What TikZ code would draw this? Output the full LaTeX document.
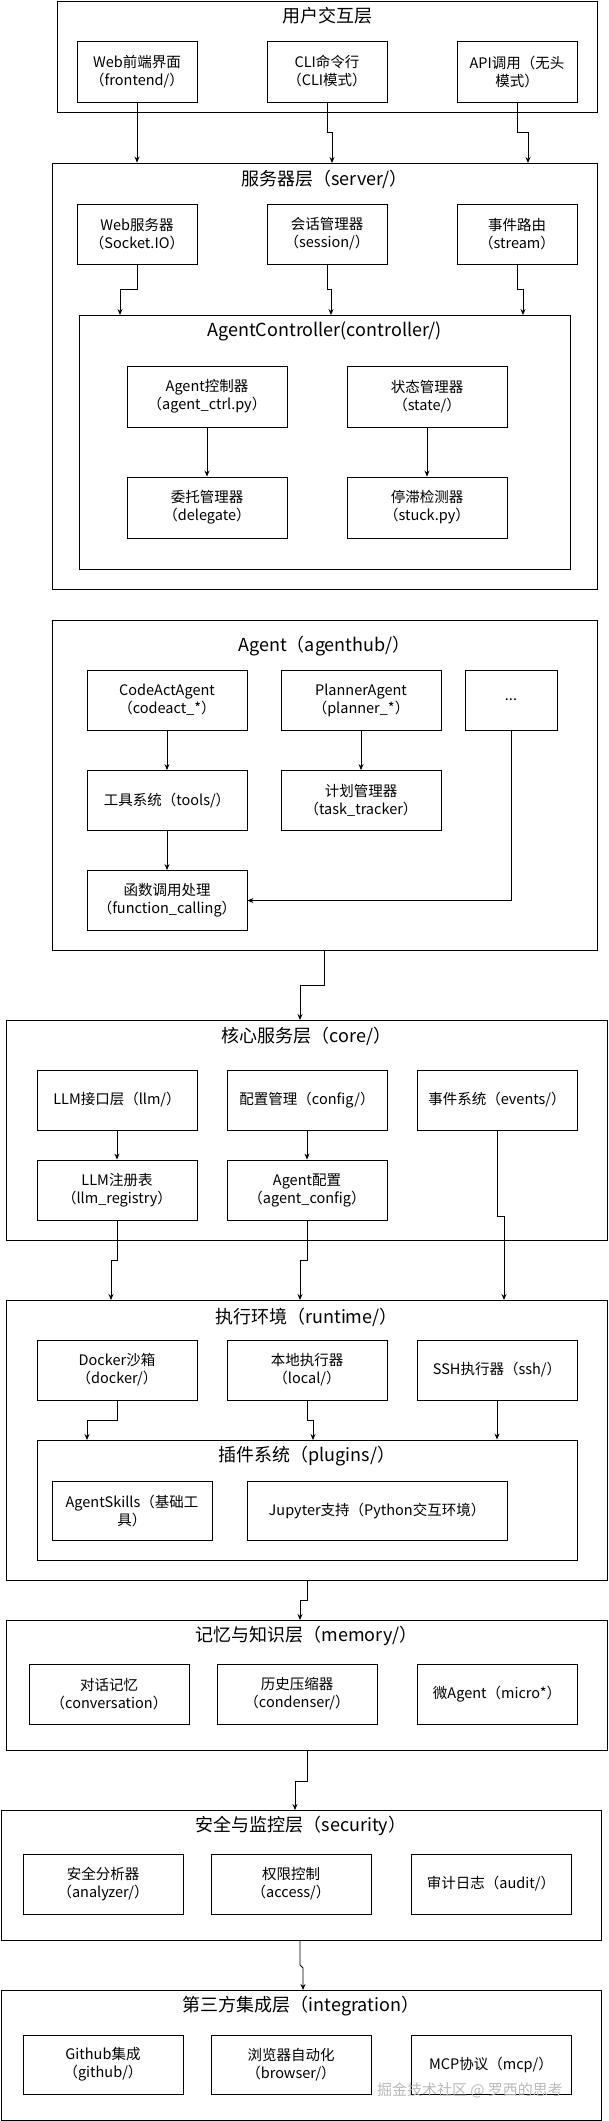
\documentclass[tikz,border=0pt]{standalone}
\usepackage{fontspec}
\setmainfont{Noto Sans CJK SC}
\usetikzlibrary{arrows.meta}
\begin{document}
\begin{tikzpicture}[x=1pt,y=-1pt,
  box/.style={draw=black,line width=0.9pt,align=center,inner sep=1pt,font=\fontsize{14.5}{18}\selectfont},
  layer/.style={draw=black,line width=0.9pt},
  ttl/.style={font=\fontsize{18}{21}\selectfont,inner sep=0pt},
  arr/.style={draw=black,line width=0.8pt,-{Stealth[length=6pt,width=5pt]}}]
\useasboundingbox (0,0) rectangle (608,2121);
% layer 1
\node[layer,minimum width=540pt,minimum height=111pt] (ui) at (327,56.5) {};
\node[ttl] (uit) at (327,16) {用户交互层};
\node[box,minimum width=120pt,minimum height=61pt] (u1) at (137,71.5) {Web前端界面\\（frontend/）};
\node[box,minimum width=120pt,minimum height=61pt] (u2) at (327,71.5) {CLI命令行\\（CLI模式）};
\node[box,minimum width=120pt,minimum height=61pt] (u3) at (517,71.5) {API调用（无头\\模式）};
% server
\node[layer,minimum width=545pt,minimum height=426pt] (srv) at (324.5,376) {};
\node[ttl] (srvt) at (324.5,179) {服务器层（server/）};
\node[box,minimum width=120pt,minimum height=60pt] (s1) at (137,234) {Web服务器\\（Socket.IO）};
\node[box,minimum width=120pt,minimum height=60pt] (s2) at (327,234) {会话管理器\\（session/）};
\node[box,minimum width=120pt,minimum height=60pt] (s3) at (517,234) {事件路由\\（stream）};
\node[layer,minimum width=491pt,minimum height=254pt] (ctl) at (324.5,442) {};
\node[ttl] (ctlt) at (324.5,331) {AgentController(controller/)};
\node[box,minimum width=160pt,minimum height=61pt] (a1) at (207,396.5) {Agent控制器\\（agent\_ctrl.py）};
\node[box,minimum width=160pt,minimum height=61pt] (a2) at (427,396.5) {状态管理器\\（state/）};
\node[box,minimum width=160pt,minimum height=61pt] (a3) at (207,507.5) {委托管理器\\（delegate）};
\node[box,minimum width=160pt,minimum height=61pt] (a4) at (427,507.5) {停滞检测器\\（stuck.py）};
% agent
\node[layer,minimum width=545pt,minimum height=330pt] (ag) at (324.5,785) {};
\node[ttl] (agt) at (324.5,646) {Agent（agenthub/）};
\node[box,minimum width=160pt,minimum height=60pt] (g1) at (167,700) {CodeActAgent\\（codeact\_*）};
\node[box,minimum width=160pt,minimum height=60pt] (g2) at (361,700) {PlannerAgent\\（planner\_*）};
\node[box,minimum width=92pt,minimum height=60pt] (g3) at (511,700) {...};
\node[box,minimum width=160pt,minimum height=60pt] (g4) at (167,800.5) {工具系统（tools/）};
\node[box,minimum width=160pt,minimum height=60pt] (g5) at (361,800.5) {计划管理器\\（task\_tracker）};
\node[box,minimum width=160pt,minimum height=60pt] (g6) at (167,900.5) {函数调用处理\\（function\_calling）};
% core
\node[layer,minimum width=601pt,minimum height=220pt] (core) at (306.5,1130) {};
\node[ttl] (coret) at (306.5,1036) {核心服务层（core/）};
\node[box,minimum width=160pt,minimum height=60pt] (c1) at (117,1100) {LLM接口层（llm/）};
\node[box,minimum width=160pt,minimum height=60pt] (c2) at (307,1100) {配置管理（config/）};
\node[box,minimum width=160pt,minimum height=60pt] (c3) at (497,1100) {事件系统（events/）};
\node[box,minimum width=160pt,minimum height=60pt] (c4) at (117,1190) {LLM注册表\\（llm\_registry）};
\node[box,minimum width=160pt,minimum height=60pt] (c5) at (307,1190) {Agent配置\\（agent\_config）};
% runtime
\node[layer,minimum width=601pt,minimum height=280pt] (rt) at (306.5,1440) {};
\node[ttl] (rtt) at (306.5,1317) {执行环境（runtime/）};
\node[box,minimum width=160pt,minimum height=60pt] (r1) at (117,1370) {Docker沙箱\\（docker/）};
\node[box,minimum width=160pt,minimum height=60pt] (r2) at (307,1370) {本地执行器\\（local/）};
\node[box,minimum width=160pt,minimum height=60pt] (r3) at (497,1370) {SSH执行器（ssh/）};
\node[layer,minimum width=540pt,minimum height=120pt] (pl) at (307,1500) {};
\node[ttl] (plt) at (307,1456) {插件系统（plugins/）};
\node[box,minimum width=160pt,minimum height=59pt] (p1) at (132,1510.5) {AgentSkills（基础工\\具）};
\node[box,minimum width=260pt,minimum height=59pt] (p2) at (377,1510.5) {Jupyter支持（Python交互环境）};
% memory
\node[layer,minimum width=601pt,minimum height=130pt] (mem) at (306.5,1685) {};
\node[ttl] (memt) at (306.5,1636) {记忆与知识层（memory/）};
\node[box,minimum width=160pt,minimum height=60pt] (m1) at (109,1694) {对话记忆\\（conversation）};
\node[box,minimum width=160pt,minimum height=60pt] (m2) at (297,1694) {历史压缩器\\（condenser/）};
\node[box,minimum width=160pt,minimum height=60pt] (m3) at (497,1694) {微Agent（micro*）};
% security
\node[layer,minimum width=600pt,minimum height=130pt] (sec) at (301,1875) {};
\node[ttl] (sect) at (301,1826) {安全与监控层（security）};
\node[box,minimum width=160pt,minimum height=60pt] (x1) at (103,1884) {安全分析器\\（analyzer/）};
\node[box,minimum width=160pt,minimum height=60pt] (x2) at (291,1884) {权限控制\\（access/）};
\node[box,minimum width=160pt,minimum height=60pt] (x3) at (491,1884) {审计日志（audit/）};
% integration
\node[layer,minimum width=600pt,minimum height=130pt] (int) at (301,2055) {};
\node[ttl] (intt) at (301,2006) {第三方集成层（integration）};
\node[box,minimum width=160pt,minimum height=59pt] (i1) at (103,2064.5) {Github集成\\（github/）};
\node[box,minimum width=160pt,minimum height=59pt] (i2) at (291,2064.5) {浏览器自动化\\（browser/）};
\node[box,minimum width=160pt,minimum height=59pt] (i3) at (491,2064.5) {MCP协议（mcp/）};
\node[text=gray!55,font=\fontsize{15}{18}\selectfont] (wm) at (470,2090) {掘金技术社区 @ 罗西的思考};
% arrows
\draw[arr] (u1.south) -- (u1.south |- srv.north);
\draw[arr] (u2.south) |- (332,132) -- (332,163);
\draw[arr] (u3.south) |- (528,132) -- (528,163);
\draw[arr] (s1.south) |- (120,289) -- (120,315);
\draw[arr] (s2.south) |- (331,289) -- (331,315);
\draw[arr] (s3.south) |- (523,289) -- (523,315);
\draw[arr] (a1) -- (a3);
\draw[arr] (a2) -- (a4);
\draw[arr] (g1) -- (g4);
\draw[arr] (g2) -- (g5);
\draw[arr] (g4) -- (g6);
\draw[arr] (g3.south) |- (g6.east);
\draw[arr] (324,950) |- (300,985) -- (300,1020);
\draw[arr] (c1) -- (c4);
\draw[arr] (c2) -- (c5);
\draw[arr] (c4.south) |- (111,1260) -- (111,1300);
\draw[arr] (c5.south) |- (300,1260) -- (300,1300);
\draw[arr] (c3.south) |- (504,1216) -- (504,1300);
\draw[arr] (r1.south) |- (87,1420) -- (87,1440);
\draw[arr] (r2.south) |- (313,1420) -- (313,1440);
\draw[arr] (r3.south) -- (r3.south |- pl.north);
\draw[arr] (307,1580) |- (300,1600) -- (300,1620);
\draw[arr] (307,1750) |- (295,1781) -- (295,1810);
\draw[arr] (300,1940) -- (300,1965) -- (303,1968) -- (303,1990);
\end{tikzpicture}
\end{document}
